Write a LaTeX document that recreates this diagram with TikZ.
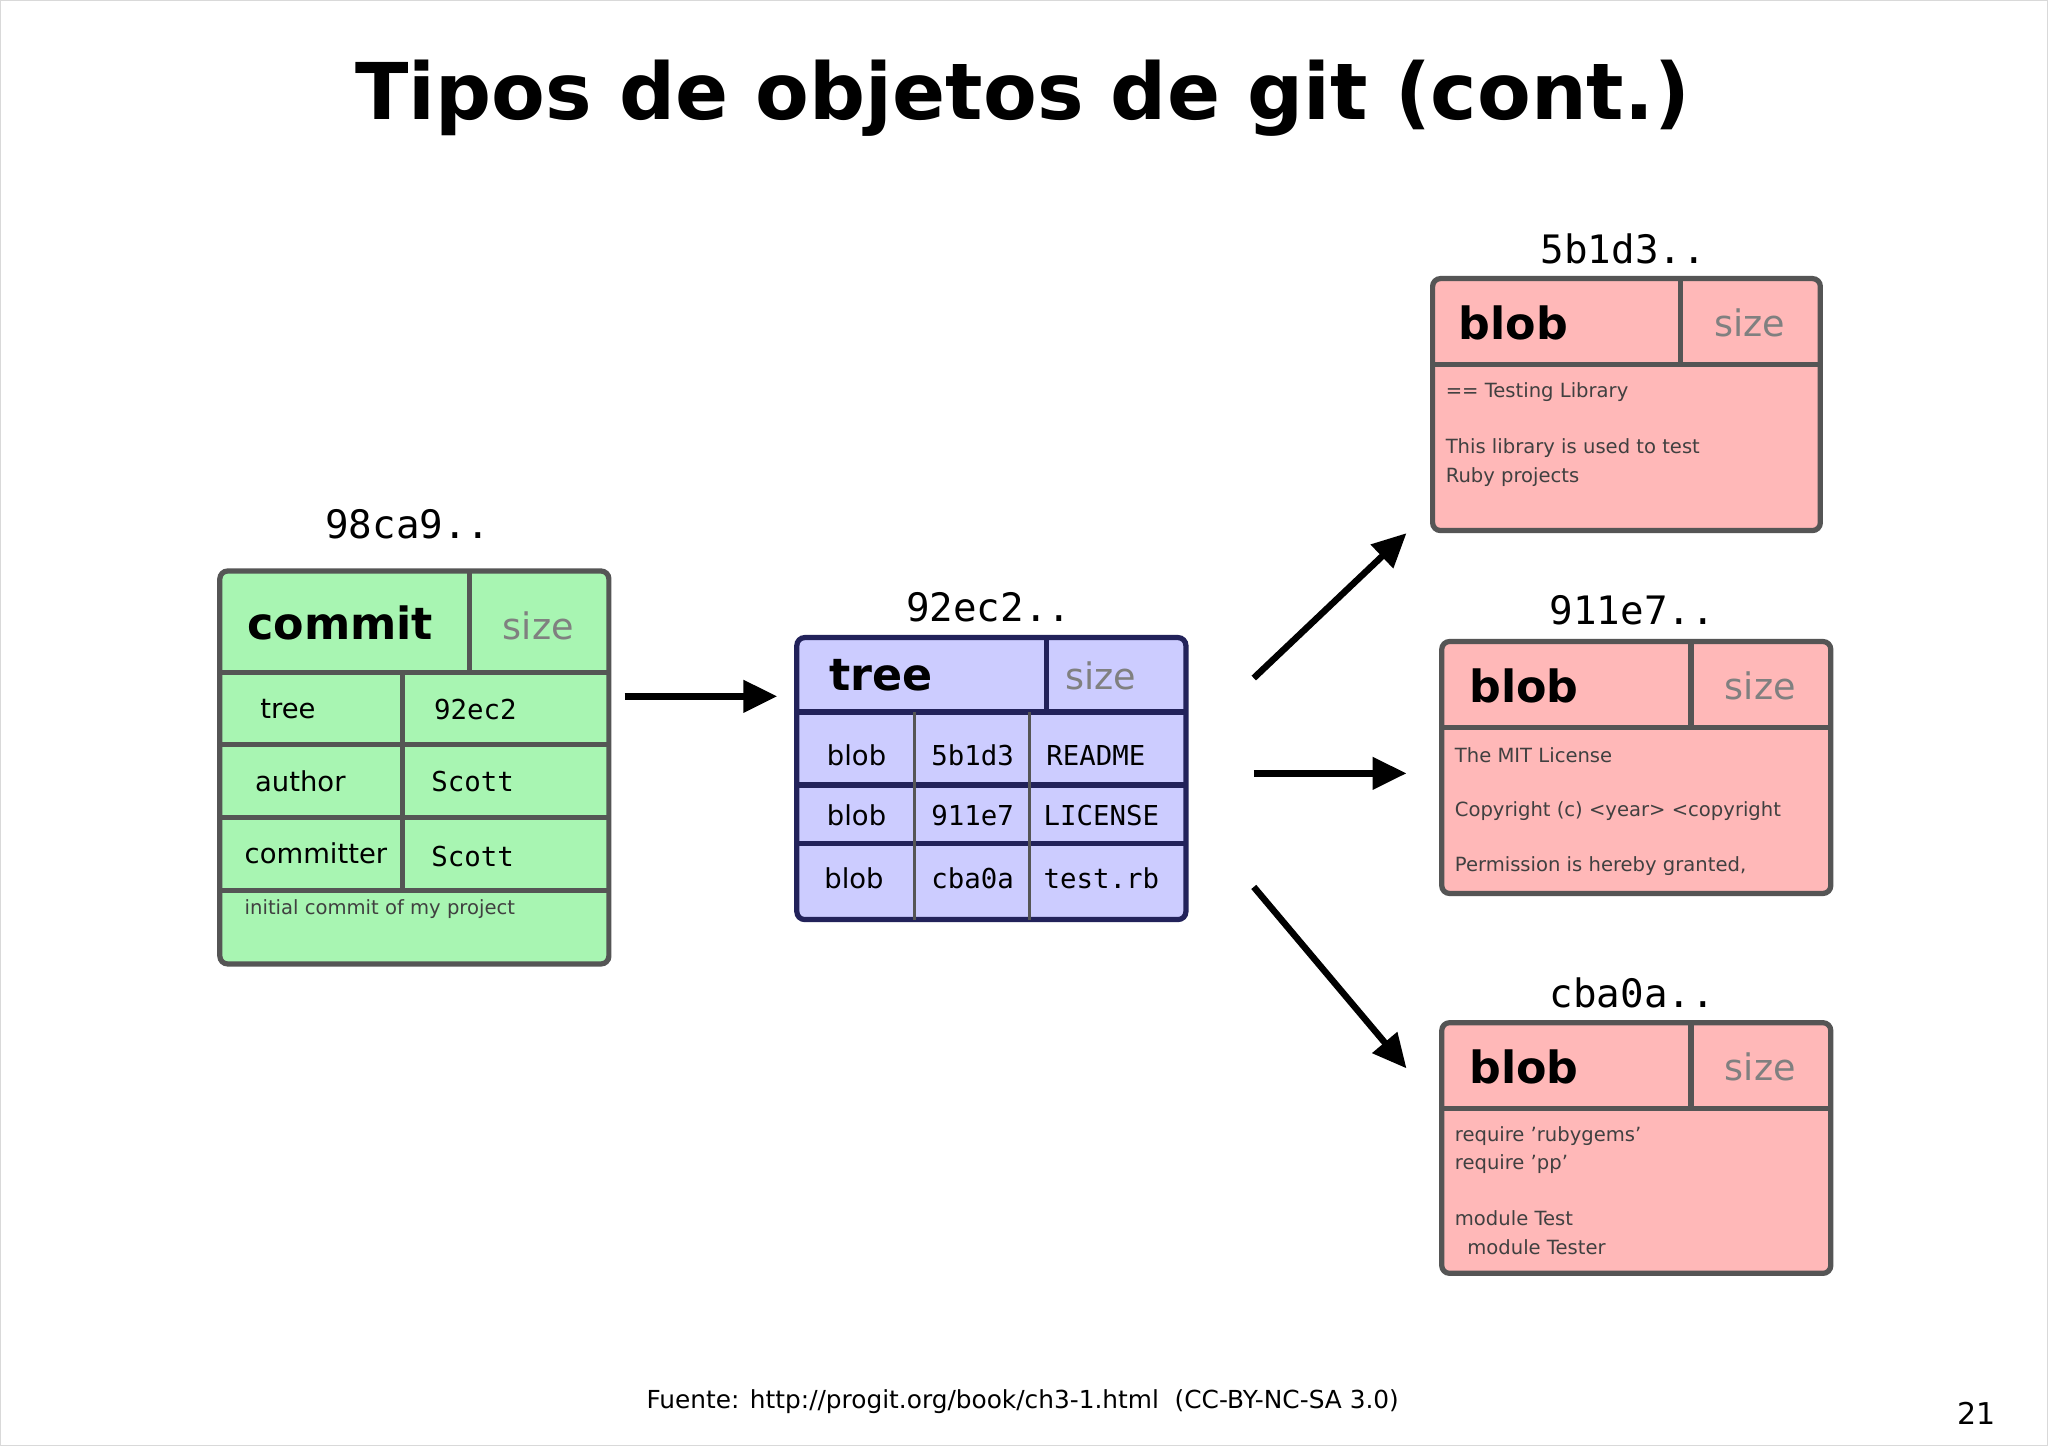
\documentclass[tikz,border=0pt]{standalone}
\usepackage{fontspec}
\setmainfont{DejaVu Sans}
\newfontfamily\monof{DejaVu Sans Mono}
\usetikzlibrary{arrows.meta}
\definecolor{gfill}{HTML}{A8F5B2}
\definecolor{gline}{HTML}{555555}
\definecolor{tfill}{HTML}{CCCCFF}
\definecolor{tline}{HTML}{22225A}
\definecolor{bfill}{HTML}{FFB8B8}
\definecolor{sizec}{HTML}{808080}
\tikzset{
 objbox/.style={draw=gline,line width=2pt,rounded corners=3pt,inner sep=0pt},
 hdr/.style={font=\fontsize{17}{20}\selectfont\bfseries,anchor=west},
 sz/.style={font=\fontsize{14}{17}\selectfont,text=sizec},
 cell/.style={font=\fontsize{10.5}{12}\selectfont,anchor=west},
 mcell/.style={font=\monof\fontsize{10.5}{12}\selectfont,anchor=west},
 small/.style={font=\fontsize{7.5}{9}\selectfont,anchor=west,text=black!75},
 hash/.style={font=\monof\fontsize{15}{18}\selectfont},
 arr/.style={-{Triangle[length=13pt,width=12pt]},line width=2.5pt}
}
\begin{document}
\begin{tikzpicture}[x=0.5pt,y=-0.5pt]
\draw[black!15,fill=white] (0,0) rectangle (1568,1107);
\useasboundingbox (0,0) rectangle (1568,1107);
\node[font=\fontsize{30}{36}\selectfont\bfseries] (title) at (783,75) {Tipos de objetos de git (cont.)};
% commit
\node[objbox,fill=gfill,minimum width=149pt,minimum height=150.5pt] (commit) at (317,587.5) {};
\draw[gline,line width=2pt] (168,515)--(466,515) (359,437)--(359,515)
 (168,570)--(466,570) (168,626)--(466,626) (168,682)--(466,682) (308,515)--(308,682);
\node[hdr] (ch) at (182,477) {commit};
\node[sz] (cs) at (412,479) {size};
\node[cell] (c1) at (192,543) {tree};
\node[mcell] (c2) at (325,543) {92ec2};
\node[cell] (c3) at (188,598) {author};
\node[mcell] (c4) at (323,598) {Scott};
\node[cell] (c5) at (180,653) {committer};
\node[mcell] (c6) at (323,656) {Scott};
\node[small] (c7) at (180,696) {initial commit of my project};
\node[hash] (h1) at (312,401) {98ca9..};
% tree
\node[objbox,draw=tline,fill=tfill,minimum width=149pt,minimum height=108pt] (tree) at (759,596) {};
\draw[tline,line width=2pt] (610,545)--(908,545) (801,488)--(801,545)
 (610,601)--(908,601) (610,646)--(908,646);
\draw[gline,line width=1pt] (700,545)--(700,704) (788,545)--(788,704);
\node[hdr] (th) at (628,517) {tree};
\node[sz] (ts) at (843,517) {size};
\node[cell] (t1) at (626,578) {blob};
\node[mcell] (t2) at (706,578) {5b1d3};
\node[mcell] (t3) at (794,578) {README};
\node[cell] (t4) at (626,624) {blob};
\node[mcell] (t5) at (706,624) {911e7};
\node[mcell] (t6) at (792,624) {LICENSE};
\node[cell] (t7) at (624,672) {blob};
\node[mcell] (t8) at (706,672) {cba0a};
\node[mcell] (t9) at (792,672) {test.rb};
\node[hash] (h2) at (757,465) {92ec2..};
% blobs
\node[objbox,fill=bfill,minimum width=148.5pt,minimum height=96.5pt] (b1) at (1245.5,309.5) {};
\draw[gline,line width=2pt] (1097,279)--(1394,279) (1287,213)--(1287,279);
\node[hdr] (b1h) at (1110,247) {blob};
\node[sz] (b1s) at (1340,247) {size};
\node[small] (b1a) at (1100,300) {== Testing Library};
\node[small] (b1b) at (1100,343) {This library is used to test};
\node[small] (b1c) at (1100,365) {Ruby projects};
\node[hash] (h3) at (1243,190) {5b1d3..};

\node[objbox,fill=bfill,minimum width=149pt,minimum height=96.5pt] (b2) at (1253,587.5) {};
\draw[gline,line width=2pt] (1104,557)--(1402,557) (1295,491)--(1295,557);
\node[hdr] (b2h) at (1118,525) {blob};
\node[sz] (b2s) at (1348,525) {size};
\node[small] (b2a) at (1107,578) {The MIT License};
\node[small] (b2b) at (1107,621) {Copyright (c) <year> <copyright};
\node[small] (b2c) at (1107,663) {Permission is hereby granted,};
\node[hash] (h4) at (1250,467) {911e7..};

\node[objbox,fill=bfill,minimum width=149pt,minimum height=96pt] (b3) at (1253,879) {};
\draw[gline,line width=2pt] (1104,849)--(1402,849) (1295,783)--(1295,849);
\node[hdr] (b3h) at (1118,817) {blob};
\node[sz] (b3s) at (1348,817) {size};
\node[small] (b3a) at (1107,870) {require 'rubygems'};
\node[small] (b3b) at (1107,891) {require 'pp'};
\node[small] (b3c) at (1107,933) {module Test};
\node[small] (b3d) at (1107,955) {\ \ module Tester};
\node[hash] (h5) at (1250,760) {cba0a..};
% arrows
\coordinate (s0) at (478,533); \coordinate (s1) at (595,533);
\coordinate (a0) at (960,519); \coordinate (a1) at (1077,408);
\coordinate (a2) at (960,592); \coordinate (a3) at (1077,592);
\coordinate (a4) at (960,679); \coordinate (a5) at (1077,818);
\draw[arr] (s0)--(s1);
\draw[arr] (a0)--(a1);
\draw[arr] (a2)--(a3);
\draw[arr] (a4)--(a5);
\node[font=\fontsize{9.5}{11}\selectfont] (foot) at (783,1073) {Fuente: http://progit.org/book/ch3-1.html\ \ (CC-BY-NC-SA 3.0)};
\node[font=\fontsize{11.5}{13}\selectfont] (pg) at (1514,1082) {21};
\end{tikzpicture}
\end{document}
